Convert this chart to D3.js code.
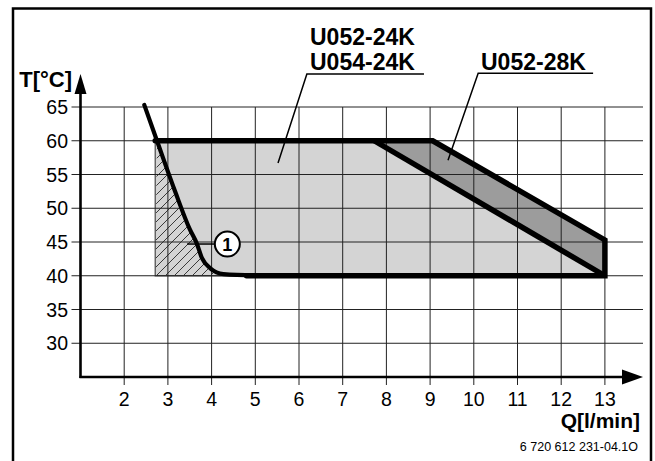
<!DOCTYPE html>
<html><head><meta charset="utf-8">
<script src="https://cdn.jsdelivr.net/npm/d3@7"></script>
<style>
html,body{margin:0;padding:0;background:#fff;}
svg{display:block;font-family:"Liberation Sans",Arial,Helvetica,sans-serif;}
</style></head>
<body>
<svg id="chart" width="655" height="461"></svg>
<script>
// ---- data ----
const xTicks = [2,3,4,5,6,7,8,9,10,11,12,13];
const yTicks = [30,35,40,45,50,55,60,65];
const xLabel = "Q[l/min]";
const yLabel = "T[°C]";
const footnote = "6 720 612 231-04.1O";
const labels24 = ["U052-24K","U054-24K"];
const label28 = "U052-28K";
// region U052-24K / U054-24K (Q, T)
const region24 = [[2.71,60],[7.72,60],[13.0,40],[2.71,40]];
// region U052-28K
const region28 = [[7.72,60],[9.06,60],[13.0,45.3],[13.0,40]];
// outline (thick)
const outline = [[2.71,60],[9.06,60],[13.0,45.3],[13.0,40],[4.8,40]];
const diag24 = [[7.72,60],[13.0,40]];
// curve 1 (minimum)
const curve1 = [[2.46,65.3],[2.75,60],[3.17,52.4],[3.5,46.9],[3.66,44.8],[3.78,42.6],[3.97,41.1],[4.27,40.25],[5.0,40.05]];
const hatchLeftQ = 2.71;
// annotation anchors (data coords)
const lead24 = {from:[6.18,69.9], to:[5.52,56.7], under:[8.86,69.9]};
const lead28 = {from:[10.1,70.0], to:[9.41,57.1], under:[12.73,70.0]};
const marker1 = {center:[4.36,44.7], lineFrom:[3.44,44.7], text:"1"};

// ---- scales ----
const x = d3.scaleLinear().domain([1,14]).range([80.5,648.6]);
const y = d3.scaleLinear().domain([25,65]).range([377,107]);
const svg = d3.select("#chart");

// frame
svg.append("rect").attr("x",13).attr("y",8.5).attr("width",638).attr("height",460)
  .attr("fill","none").attr("stroke","#000").attr("stroke-width",2.5);

// hatch pattern
const defs = svg.append("defs");
const pat = defs.append("pattern").attr("id","hatch").attr("patternUnits","userSpaceOnUse")
  .attr("width",9).attr("height",9);
pat.append("rect").attr("width",9).attr("height",9).attr("fill","#d4d4d4");
pat.append("path").attr("d","M0,9 L9,0 M-2,2 L2,-2 M7,11 L11,7")
  .attr("stroke","#3a3a3a").attr("stroke-width",1);

const line = d3.line().x(d=>x(d[0])).y(d=>y(d[1]));

// regions
svg.append("path").attr("d",line(region24)+"Z").attr("fill","#d4d4d4");
svg.append("path").attr("d",line(region28)+"Z").attr("fill","#9c9c9c");
// hatched region
const curveLine = d3.line().x(d=>x(d[0])).y(d=>y(d[1])).curve(d3.curveMonotoneX);
const hatchPts = curve1.slice(1);
svg.append("path")
  .attr("d",curveLine(hatchPts)+"L"+x(hatchLeftQ)+","+y(40)+"Z")
  .attr("fill","url(#hatch)");
svg.append("path")
  .attr("d",line([[hatchLeftQ,60],[hatchLeftQ,40],[4.8,40]]))
  .attr("fill","none").attr("stroke","#555").attr("stroke-width",1.3);

// grid
const g = svg.append("g").attr("stroke","#222").attr("stroke-width",1);
xTicks.forEach(v=>{
  g.append("line").attr("x1",x(v)).attr("x2",x(v)).attr("y1",y(65)).attr("y2",y(25)+8);
});
yTicks.forEach(v=>{
  g.append("line").attr("x1",x(1)-9).attr("x2",643).attr("y1",y(v)).attr("y2",y(v));
});

// thick outlines
svg.append("path").attr("d",line(outline)).attr("fill","none").attr("stroke","#000")
  .attr("stroke-width",5.5).attr("stroke-linejoin","miter").attr("stroke-linecap","round");
svg.append("path").attr("d",line(diag24)).attr("fill","none").attr("stroke","#000")
  .attr("stroke-width",5.5).attr("stroke-linecap","butt");
svg.append("path").attr("d",curveLine(curve1)).attr("fill","none").attr("stroke","#000")
  .attr("stroke-width",4.2).attr("stroke-linecap","round");

// axes
svg.append("line").attr("x1",x(1)).attr("x2",x(1)).attr("y1",y(25)+1).attr("y2",92)
  .attr("stroke","#000").attr("stroke-width",2.6);
svg.append("path").attr("d",`M${x(1)},74 L${x(1)-6},94 L${x(1)+6},94 Z`).attr("fill","#000");
svg.append("line").attr("x1",x(1)-1).attr("x2",625).attr("y1",y(25)).attr("y2",y(25))
  .attr("stroke","#000").attr("stroke-width",2.6);
svg.append("path").attr("d",`M643,${y(25)} L622,${y(25)-7.5} L622,${y(25)+7.5} Z`).attr("fill","#000");

// tick labels
svg.append("g").selectAll("text").data(yTicks).join("text")
  .attr("x",68).attr("y",d=>y(d)+7).attr("text-anchor","end")
  .attr("font-size",19.5).text(d=>d);
svg.append("g").selectAll("text").data(xTicks).join("text")
  .attr("x",d=>x(d)).attr("y",406).attr("text-anchor","middle")
  .attr("font-size",19.5).text(d=>d);

// axis titles
svg.append("text").attr("x",72).attr("y",87).attr("text-anchor","end")
  .attr("font-size",22).attr("font-weight","bold").text(yLabel);
svg.append("text").attr("x",640).attr("y",428).attr("text-anchor","end")
  .attr("font-size",21).attr("font-weight","bold").text(xLabel);
svg.append("text").attr("x",638).attr("y",451).attr("text-anchor","end")
  .attr("font-size",12.5).text(footnote);

// model labels
labels24.forEach((t,i)=>{
  svg.append("text").attr("x",310).attr("y",45+i*25).attr("font-size",23)
    .attr("font-weight","bold").text(t);
});
svg.append("text").attr("x",481).attr("y",70).attr("font-size",23)
  .attr("font-weight","bold").text(label28);

// leaders
const lg = svg.append("g").attr("stroke","#000").attr("stroke-width",1.5).attr("fill","none");
[lead24,lead28].forEach(l=>{
  lg.append("path").attr("d",line([l.under,l.from,l.to]));
});

// marker 1
const mc = marker1.center;
svg.append("line").attr("x1",x(marker1.lineFrom[0])).attr("x2",x(mc[0])-12)
  .attr("y1",y(mc[1])).attr("y2",y(mc[1])).attr("stroke","#000").attr("stroke-width",1.5);
svg.append("circle").attr("cx",x(mc[0])).attr("cy",y(mc[1])).attr("r",12.5)
  .attr("fill","#fff").attr("stroke","#000").attr("stroke-width",2);
svg.append("text").attr("x",x(mc[0])).attr("y",y(mc[1])+6.5).attr("text-anchor","middle")
  .attr("font-size",18).attr("font-weight","bold").text(marker1.text);
</script>
</body></html>
